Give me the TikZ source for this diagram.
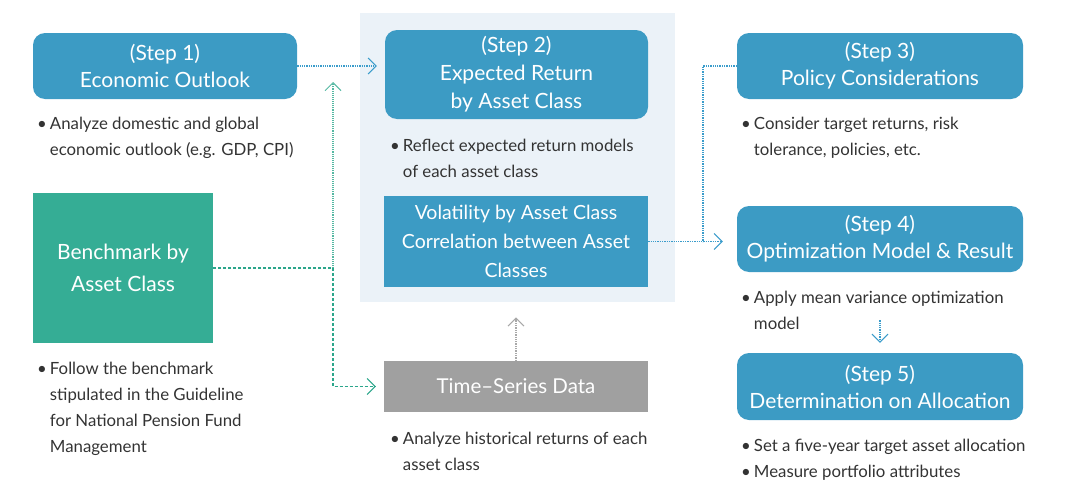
\documentclass[tikz,border=0pt]{standalone}
\usepackage{fontspec}
\setmainfont{Lato}
\usetikzlibrary{arrows.meta}
\definecolor{boxblue}{HTML}{3C9BC4}
\definecolor{boxgreen}{HTML}{35AD95}
\definecolor{boxgray}{HTML}{A0A0A0}
\definecolor{panelbg}{HTML}{EBF2F8}
\definecolor{txt}{HTML}{333333}
\definecolor{lineblue}{HTML}{3A9CCB}
\definecolor{linegreen}{HTML}{2BA68B}
\definecolor{linegray}{HTML}{A8A8A8}
\newcommand{\bulletlist}[1]{\begin{tabular}[t]{@{}l@{\hspace{3pt}}l@{}}#1\end{tabular}}
\begin{document}
\begin{tikzpicture}[x=1pt,y=-1pt,
  stepbox/.style={fill=boxblue,rounded corners=12pt,text=white,align=center,
    font=\fontsize{21}{27}\selectfont,inner sep=0pt},
  flatbox/.style={text=white,align=center,inner sep=0pt},
  notes/.style={anchor=base west,inner sep=0pt,text=txt,
    font=\fontsize{16.8}{26}\selectfont},
  flow/.style={line width=1.3pt,densely dotted,
    -{Straight Barb[length=8pt,width=16pt,line width=1pt]}},
  feed/.style={line width=1.1pt,dash pattern=on 3pt off 2pt,
    -{Straight Barb[length=8pt,width=16pt,line width=1pt]}}]
\useasboundingbox (0,0) rectangle (1069,482);

% background panel behind step 2
\node[fill=panelbg,minimum width=315pt,minimum height=289pt,inner sep=0pt,anchor=north west] (panel) at (360,13) {};

% step boxes
\node[stepbox,minimum width=264pt,minimum height=66pt] (s1) at (165,66) {(Step 1)\\Economic Outlook};
\node[stepbox,minimum width=263pt,minimum height=89pt,font=\fontsize{21}{28}\selectfont] (s2) at (516.5,74.5) {(Step 2)\\Expected Return\\by Asset Class};
\node[stepbox,minimum width=286pt,minimum height=66pt] (s3) at (880,66) {(Step 3)\\Policy Considerations};
\node[stepbox,minimum width=286pt,minimum height=66pt] (s4) at (880,239) {(Step 4)\\Optimization Model \& Result};
\node[stepbox,minimum width=286pt,minimum height=67pt] (s5) at (880,386.5) {(Step 5)\\Determination on Allocation};

% input boxes
\node[flatbox,fill=boxgreen,minimum width=180pt,minimum height=150pt,
  font=\fontsize{21}{32}\selectfont] (bench) at (123,268) {Benchmark by\\Asset Class};
\node[flatbox,fill=boxblue,minimum width=264pt,minimum height=91pt,
  font=\fontsize{19.5}{29}\selectfont] (vol) at (516,241.5) {Volatility by Asset Class\\Correlation between Asset\\Classes};
\node[flatbox,fill=boxgray,minimum width=264pt,minimum height=51pt,
  font=\fontsize{20.5}{27}\selectfont] (ts) at (516,386.5) {Time–Series Data};

% notes under the boxes
\node[notes] (n1) at (37,129) {\bulletlist{• & Analyze domestic and global\\ & economic outlook (e.g. GDP, CPI)}};
\node[notes] (n2) at (390,151) {\bulletlist{• & Reflect expected return models\\ & of each asset class}};
\node[notes] (n3) at (741,129) {\bulletlist{• & Consider target returns, risk\\ & tolerance, policies, etc.}};
\node[notes] (n4) at (741,303) {\bulletlist{• & Apply mean variance optimization\\ & model}};
\node[notes] (n5) at (741,451) {\bulletlist{• & Set a five-year target asset allocation\\• & Measure portfolio attributes}};
\node[notes] (nb) at (37,374) {\bulletlist{• & Follow the benchmark\\ & stipulated in the Guideline\\ & for National Pension Fund\\ & Management}};
\node[notes] (nt) at (390,444) {\bulletlist{• & Analyze historical returns of each\\ & asset class}};

% connectors
\coordinate (j) at (333,0 |- bench.east);
\coordinate (k) at (703,0 |- vol.east);
\draw[flow,lineblue,shorten >=8pt] (s1.east) -- (s1.east -| s2.west);
\draw[line width=1.1pt,linegreen,dash pattern=on 3pt off 2pt] (bench.east) -- (j);
\draw[feed,linegreen!80!white,densely dotted,line width=1.3pt,shorten >=16pt] (j) -- (j |- s1.east);
\draw[feed,linegreen,shorten >=8pt] (j) -- (j |- ts.west) -- (ts.west);
\draw[flow,linegray,shorten >=15pt] (ts.north) -- (ts.north |- panel.south);
\draw[flow,lineblue,shorten >=14pt] (vol.east) -- (vol.east -| s4.west);
\draw[line width=1.3pt,lineblue,densely dotted] (s3.west) -- (k |- s3.west) -- (k);
\draw[flow,lineblue,shorten <=48pt,shorten >=10pt] (s4.south) -- (s5.north);
\end{tikzpicture}
\end{document}
